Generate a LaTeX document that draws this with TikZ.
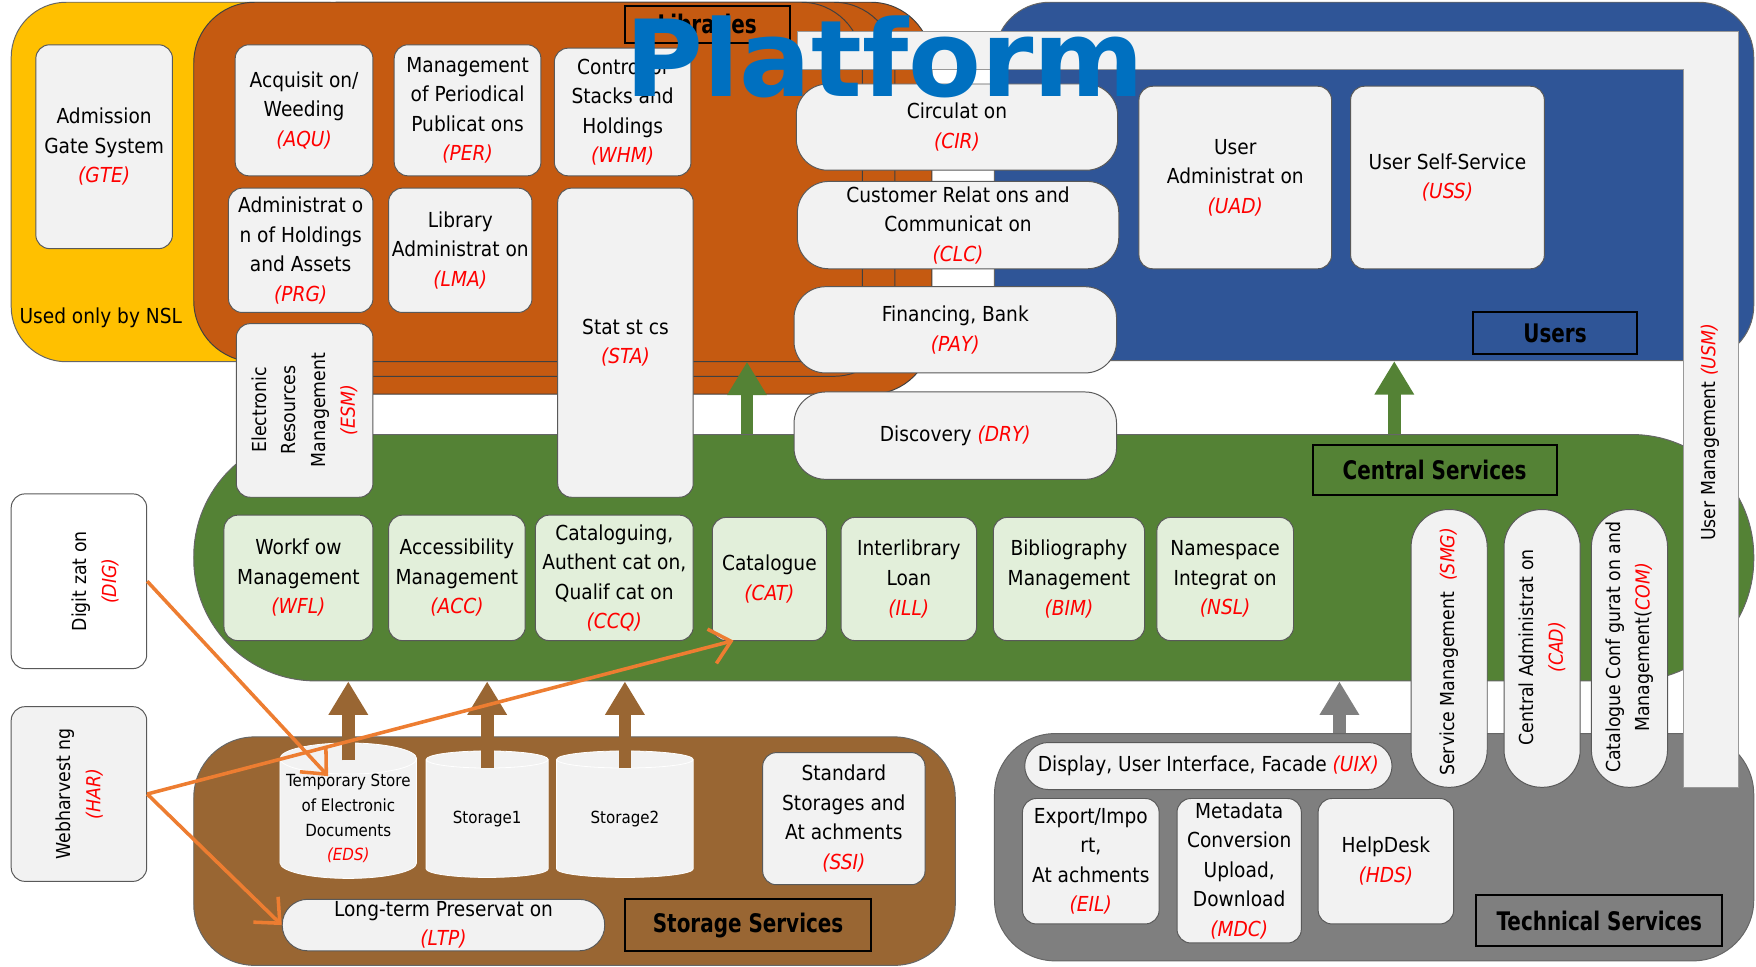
\documentclass[tikz,border=0pt]{standalone}
\usepackage{fontspec}
\setmainfont{DejaVu Sans}[FakeStretch=0.9]
\newfontfamily\labelfont{DejaVu Sans}[FakeStretch=0.78]
\newfontfamily\titlefont{DejaVu Sans}
\usetikzlibrary{shapes.geometric,arrows.meta}

\definecolor{nslYellow}{HTML}{FFC000}
\definecolor{libOrange}{HTML}{C55A11}
\definecolor{userBlue}{HTML}{2F5597}
\definecolor{centGreen}{HTML}{548235}
\definecolor{techGrey}{HTML}{7F7F7F}
\definecolor{storBrown}{HTML}{996633}
\definecolor{boxGrey}{HTML}{F2F2F2}
\definecolor{boxGreen}{HTML}{E2EFDA}
\definecolor{platBlue}{HTML}{0070C0}
\definecolor{flowOrange}{HTML}{ED7D31}

\newcommand{\modcode}[1]{{\itshape\color{red}#1}}

\tikzset{
  sized/.style 2 args={minimum width=#1*0.02cm, minimum height=#2*0.02cm},
  fatup/.style={line width=6.5pt, -{Triangle[length=17pt,width=19pt]}},
  flow/.style={flowOrange, line width=1.8pt, -{Straight Barb[length=10pt,width=18pt]}}
}

\begin{document}
\begin{tikzpicture}[x=0.02cm, y=-0.02cm, font=\fontsize{10.5}{15}\selectfont]
  \useasboundingbox (0,0) rectangle (1568,863);

  % areas
  \begin{scope}[every node/.style={rectangle, inner sep=0pt, draw=black!60, line width=0.5pt}]
    \node[sized={330}{321}, fill=nslYellow, rounded corners=28pt] (nslarea) at (175,162.5) {};
    \node[sized={582}{350}, fill=libOrange, draw=black!75, rounded corners=31pt] (libarea3) at (541,177) {};
    \node[sized={549}{334}, fill=libOrange, draw=black!75, rounded corners=31pt] (libarea2) at (524.5,169) {};
    \node[sized={597}{321}, fill=libOrange, draw=black!75, rounded corners=31pt] (libarea) at (471.5,162.5) {};
    \node[sized={678}{320}, fill=userBlue, rounded corners=28pt] (usrarea) at (1227,162) {};
    \node[sized={1393}{220}, fill=centGreen, rounded corners=62pt] (cenarea) at (869.5,498) {};
    \node[sized={678}{203}, fill=techGrey, rounded corners=31pt] (tecarea) at (1227,756.5) {};
    \node[sized={680}{204}, fill=storBrown, rounded corners=31pt] (stoarea) at (513,760) {};
  \end{scope}

  \node (nsltext) at (90,284) {Used only by NSL};

  % user management band
  \filldraw[fill=boxGrey, draw=black!40, line width=0.4pt]
    (712,28) -- (1552,28) -- (1552,703) -- (1503,703) -- (1503,62) -- (712,62) -- cycle;

  % modules
  \begin{scope}[every node/.style={rectangle, rounded corners=7pt, draw=black!65, fill=boxGrey, inner sep=0pt, align=center, line width=0.5pt}]
    \node[sized={122}{182}] (gte) at (93,131) {Admission\\Gate System\\\modcode{(GTE)}};
    \node[sized={123}{117}] (aqu) at (271.5,98.5) {Acquisit on/\\Weeding\\\modcode{(AQU)}};
    \node[sized={131}{117}] (per) at (417.5,98.5) {Management\\of Periodical\\Publicat ons\\\modcode{(PER)}};
    \node[sized={122}{114}] (whm) at (556,100) {Control of\\Stacks and\\Holdings\\\modcode{(WHM)}};
    \node[sized={129}{111}] (prg) at (268.5,223.5) {Administrat o\\n of Holdings\\and Assets\\\modcode{(PRG)}};
    \node[sized={128}{111}] (lma) at (411,223.5) {Library\\Administrat on\\\modcode{(LMA)}};
    \node[sized={121}{276}] (sta) at (558.5,306) {Stat st cs\\\modcode{(STA)}};
    \node[sized={122}{155}] (esm) at (272,366.5) {};
    \node[sized={172}{163}] (uad) at (1103,158.5) {User\\Administrat on\\\modcode{(UAD)}};
    \node[sized={173}{163}] (uss) at (1292.5,158.5) {User Self-Service\\\modcode{(USS)}};
    \node[sized={122}{112}] (eil) at (974,769) {Export/Impo\\rt,\\At achments\\\modcode{(EIL)}};
    \node[sized={111}{129}] (mdc) at (1106.5,777.5) {Metadata\\Conversion\\Upload,\\Download\\\modcode{(MDC)}};
    \node[sized={121}{112}] (hds) at (1237.5,769) {HelpDesk\\\modcode{(HDS)}};
    \node[sized={145}{118}] (ssi) at (753.5,731) {Standard\\Storages and\\At achments\\\modcode{(SSI)}};
    \node[sized={121}{156}] (har) at (70.5,709) {};
    \node[sized={121}{156}, fill=white] (dig) at (70.5,519) {};

    \node[sized={133}{112}, fill=boxGreen] (wfl) at (266.5,516) {Workf ow\\Management\\\modcode{(WFL)}};
    \node[sized={122}{112}, fill=boxGreen] (acc) at (408,516) {Accessibility\\Management\\\modcode{(ACC)}};
    \node[sized={141}{112}, fill=boxGreen] (ccq) at (548.5,516) {Cataloguing,\\Authent cat on,\\Qualif cat on\\\modcode{(CCQ)}};
    \node[sized={102}{110}, fill=boxGreen] (cat) at (687,517) {Catalogue\\\modcode{(CAT)}};
    \node[sized={121}{110}, fill=boxGreen] (ill) at (811.5,517) {Interlibrary\\Loan\\\modcode{(ILL)}};
    \node[sized={135}{110}, fill=boxGreen] (bim) at (954.5,517) {Bibliography\\Management\\\modcode{(BIM)}};
    \node[sized={122}{110}, fill=boxGreen] (nsl) at (1094,517) {Namespace\\Integrat on\\\modcode{(NSL)}};

    \node[sized={287}{77}, rounded corners=16pt] (cir) at (854.5,113.5) {Circulat on\\\modcode{(CIR)}};
    \node[sized={287}{78}, rounded corners=16pt] (clc) at (855.5,201) {Customer Relat ons and\\Communicat on\\\modcode{(CLC)}};
    \node[sized={288}{77}, rounded corners=16pt] (pay) at (853,294.5) {Financing, Bank\\\modcode{(PAY)}};
    \node[sized={288}{78}, rounded corners=16pt] (dry) at (853,389) {Discovery \modcode{(DRY)}};

    \node[sized={68}{248}, rounded corners=19pt] (smg) at (1294,579) {};
    \node[sized={68}{248}, rounded corners=19pt] (cad) at (1377,579) {};
    \node[sized={68}{248}, rounded corners=19pt] (com) at (1455,579) {};

    \node[sized={328}{42}, rounded corners=12pt] (uix) at (1079,684) {Display, User Interface, Facade \modcode{(UIX)}};
    \node[sized={288}{46}, rounded corners=13pt] (ltp) at (396,826) {Long-term Preservat on\\\modcode{(LTP)}};
  \end{scope}

  % turned texts
  \begin{scope}[every node/.style={rotate=90, align=center, inner sep=0pt, font=\fontsize{9.8}{15}\selectfont}]
    \node (usm) at (1527,386) {User Management \modcode{(USM)}};
    \node (esmtext) at (272,366) {Electronic\\Resources\\Management\\\modcode{(ESM)}};
    \node (smgtext) at (1294,582) {Service Management\ \ \modcode{(SMG)}};
    \node (cadtext) at (1377,578) {Central Administrat on\\\modcode{(CAD)}};
    \node (comtext) at (1455,578) {Catalogue Conf gurat on and\\Management(\modcode{COM)}};
    \node (digtext) at (85,519) {Digit zat on\\\modcode{(DIG)}};
    \node (hartext) at (71,709) {Webharvest ng\\\modcode{(HAR)}};
  \end{scope}

  % storages
  \begin{scope}[every node/.style={cylinder, shape border rotate=90, aspect=0.25, fill=boxGrey, draw=white, align=center, inner sep=0pt, font=\fontsize{8.5}{12.5}\selectfont}]
    \node[minimum width=2.44cm, minimum height=2.3cm] (eds) at (311,731) {Temporary Store\\of Electronic\\Documents\\\modcode{(EDS)}};
    \node[minimum width=2.18cm, minimum height=2.26cm] (store1) at (435,731) {Storage1};
    \node[minimum width=2.44cm, minimum height=2.26cm] (store2) at (558,731) {Storage2};
  \end{scope}

  % area labels
  \begin{scope}[every node/.style={rectangle, draw=black, line width=1pt, inner sep=0pt, font=\labelfont\bfseries\fontsize{13}{15}\selectfont}]
    \node[sized={147}{33}, fill=libOrange] (liblabel) at (631.5,21.5) {Libraries};
    \node[sized={147}{37}, fill=userBlue] (usrlabel) at (1388.5,297.5) {Users};
    \node[sized={218}{45}, fill=centGreen] (cenlabel) at (1281,419.5) {Central Services};
    \node[sized={220}{46}, fill=storBrown] (stolabel) at (668,826) {Storage Services};
    \node[sized={220}{46}, fill=techGrey] (teclabel) at (1428,822) {Technical Services};
  \end{scope}

  % block arrows
  \coordinate (libin) at (667,323);
  \coordinate (usrin) at (1245,322);
  \coordinate (tecup) at (1196,655);
  \draw[fatup, centGreen] (libin |- cenarea.north) -- (libin);
  \draw[fatup, centGreen] (usrin |- cenarea.north) -- (usrin |- usrarea.south);
  \draw[fatup, storBrown] ([yshift=-9pt]eds.north) -- (eds.north |- cenarea.south);
  \draw[fatup, storBrown] ([yshift=-9pt]store1.north) -- (store1.north |- cenarea.south);
  \draw[fatup, storBrown] ([yshift=-9pt]store2.north) -- (store2.north |- cenarea.south);
  \draw[fatup, techGrey] (tecup |- tecarea.north) -- (tecup |- cenarea.south);

  % harvested data
  \coordinate (edsin) at (293,693);
  \coordinate (catin) at (655,572);
  \draw[flow] (dig.east) -- (edsin);
  \draw[flow] (har.east) -- (catin);
  \draw[flow] (har.east) -- (ltp.west);

  \node[font=\titlefont\bfseries\fontsize{54}{60}\selectfont, text=platBlue, anchor=base, inner sep=0pt] (title) at (790,86) {Platform};
\end{tikzpicture}
\end{document}
